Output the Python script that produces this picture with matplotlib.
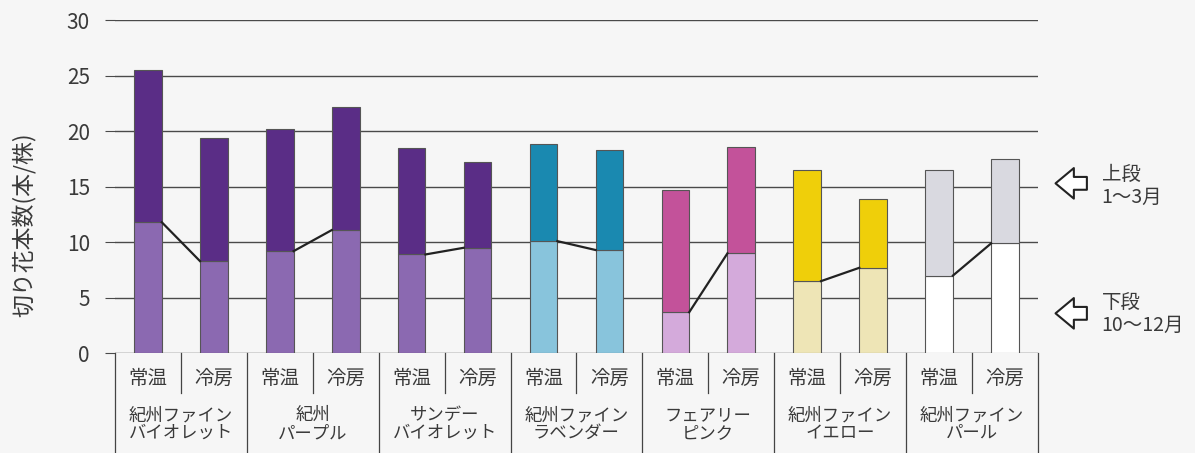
import numpy as np
import matplotlib.pyplot as plt

plt.rcParams['font.family'] = ['Noto Sans CJK JP', 'DejaVu Sans']

# data
varieties = ['紀州ファイン\nバイオレット', '紀州\nパープル', 'サンデー\nバイオレット',
             '紀州ファイン\nラベンダー', 'フェアリー\nピンク', '紀州ファイン\nイエロー',
             '紀州ファイン\nパール']
conditions = ['常温', '冷房']
lower = [11.8, 8.3, 9.2, 11.1, 8.9, 9.5, 10.1, 9.3, 3.7, 9.0, 6.5, 7.7, 7.0, 9.9]   # 10~12月
total = [25.5, 19.4, 20.2, 22.2, 18.5, 17.2, 18.8, 18.3, 14.7, 18.6, 16.5, 13.9, 16.5, 17.5]

upper_colors = ['#5a2d86', '#5a2d86', '#5a2d86', '#1a89b0', '#c3529a', '#efcf0a', '#d9d9e0']
lower_colors = ['#8b69b1', '#8b69b1', '#8b69b1', '#88c4dc', '#d4aadb', '#eee5b6', '#ffffff']

lower = np.array(lower)
upper = np.array(total) - lower
n = len(varieties)
x = np.arange(2 * n) + 0.5
w = 0.42
grid_c = '#4a4a4a'
txt_c = '#3a3a3a'

fig = plt.figure(figsize=(11.95, 4.53), dpi=100, facecolor='#f6f6f6')
ax = fig.add_axes([0.0962, 0.220, 0.7724, 0.7358], facecolor='#f6f6f6')

for v in range(0, 31, 5):
    ax.axhline(v, color=grid_c, lw=1, zorder=1)

cu = np.repeat(upper_colors, 2)
cl = np.repeat(lower_colors, 2)
ax.bar(x, lower, w, color=cl, edgecolor='#555555', linewidth=0.8, zorder=2)
ax.bar(x, upper, w, bottom=lower, color=cu, edgecolor='#555555', linewidth=0.8, zorder=2)

# lines joining the lower segments inside each variety
for g in range(n):
    ax.plot([x[2 * g] + w / 2, x[2 * g + 1] - w / 2], [lower[2 * g], lower[2 * g + 1]],
            color='#222222', lw=1.6, zorder=3)

ax.set_xlim(0, 2 * n)
ax.set_ylim(0, 30)
ax.set_yticks(range(0, 31, 5))
ax.tick_params(axis='y', length=7, color=grid_c, labelsize=15, labelcolor=txt_c, pad=11)
ax.set_xticks([])
for s in ax.spines.values():
    s.set_visible(False)
fig.text(0.021, 0.503, '切り花本数(本/株)', rotation=90, ha='center', va='center',
         fontsize=16.5, color=txt_c)

# category table under the axis
tr = ax.get_xaxis_transform()
for g in range(n + 1):
    ax.plot([2 * g, 2 * g], [0, -0.30], transform=tr, color='#444444', lw=0.9, clip_on=False)
for g in range(n):
    ax.plot([2 * g + 1, 2 * g + 1], [0, -0.12], transform=tr, color='#444444', lw=0.9, clip_on=False)
    for k in range(2):
        ax.text(2 * g + 0.5 + k, -0.075, conditions[k], transform=tr, ha='center', va='center',
                fontsize=14, color=txt_c)
    ax.text(2 * g + 1, -0.212, varieties[g], transform=tr, ha='center', va='center',
            fontsize=12.5, color=txt_c, linespacing=1.0)

# side notes
arrow = dict(arrowstyle='simple,head_length=0.6,head_width=1.0,tail_width=0.42',
             fc='white', ec='#222222', lw=1.5, mutation_scale=22)
for yv in (15.3, 3.6):
    ax.annotate('', xy=(1.016, yv), xytext=(1.056, yv), xycoords=('axes fraction', 'data'),
                textcoords=('axes fraction', 'data'), arrowprops=arrow, annotation_clip=False)
notes = [('上段', 16.1), ('1〜3月', 14.0), ('下段', 4.5), ('10〜12月', 2.5)]
for txt, yv in notes:
    ax.text(1.069, yv, txt, transform=ax.get_yaxis_transform(), ha='left', va='center',
            fontsize=14, color=txt_c)

fig.savefig('out.png', dpi=100, facecolor=fig.get_facecolor())
